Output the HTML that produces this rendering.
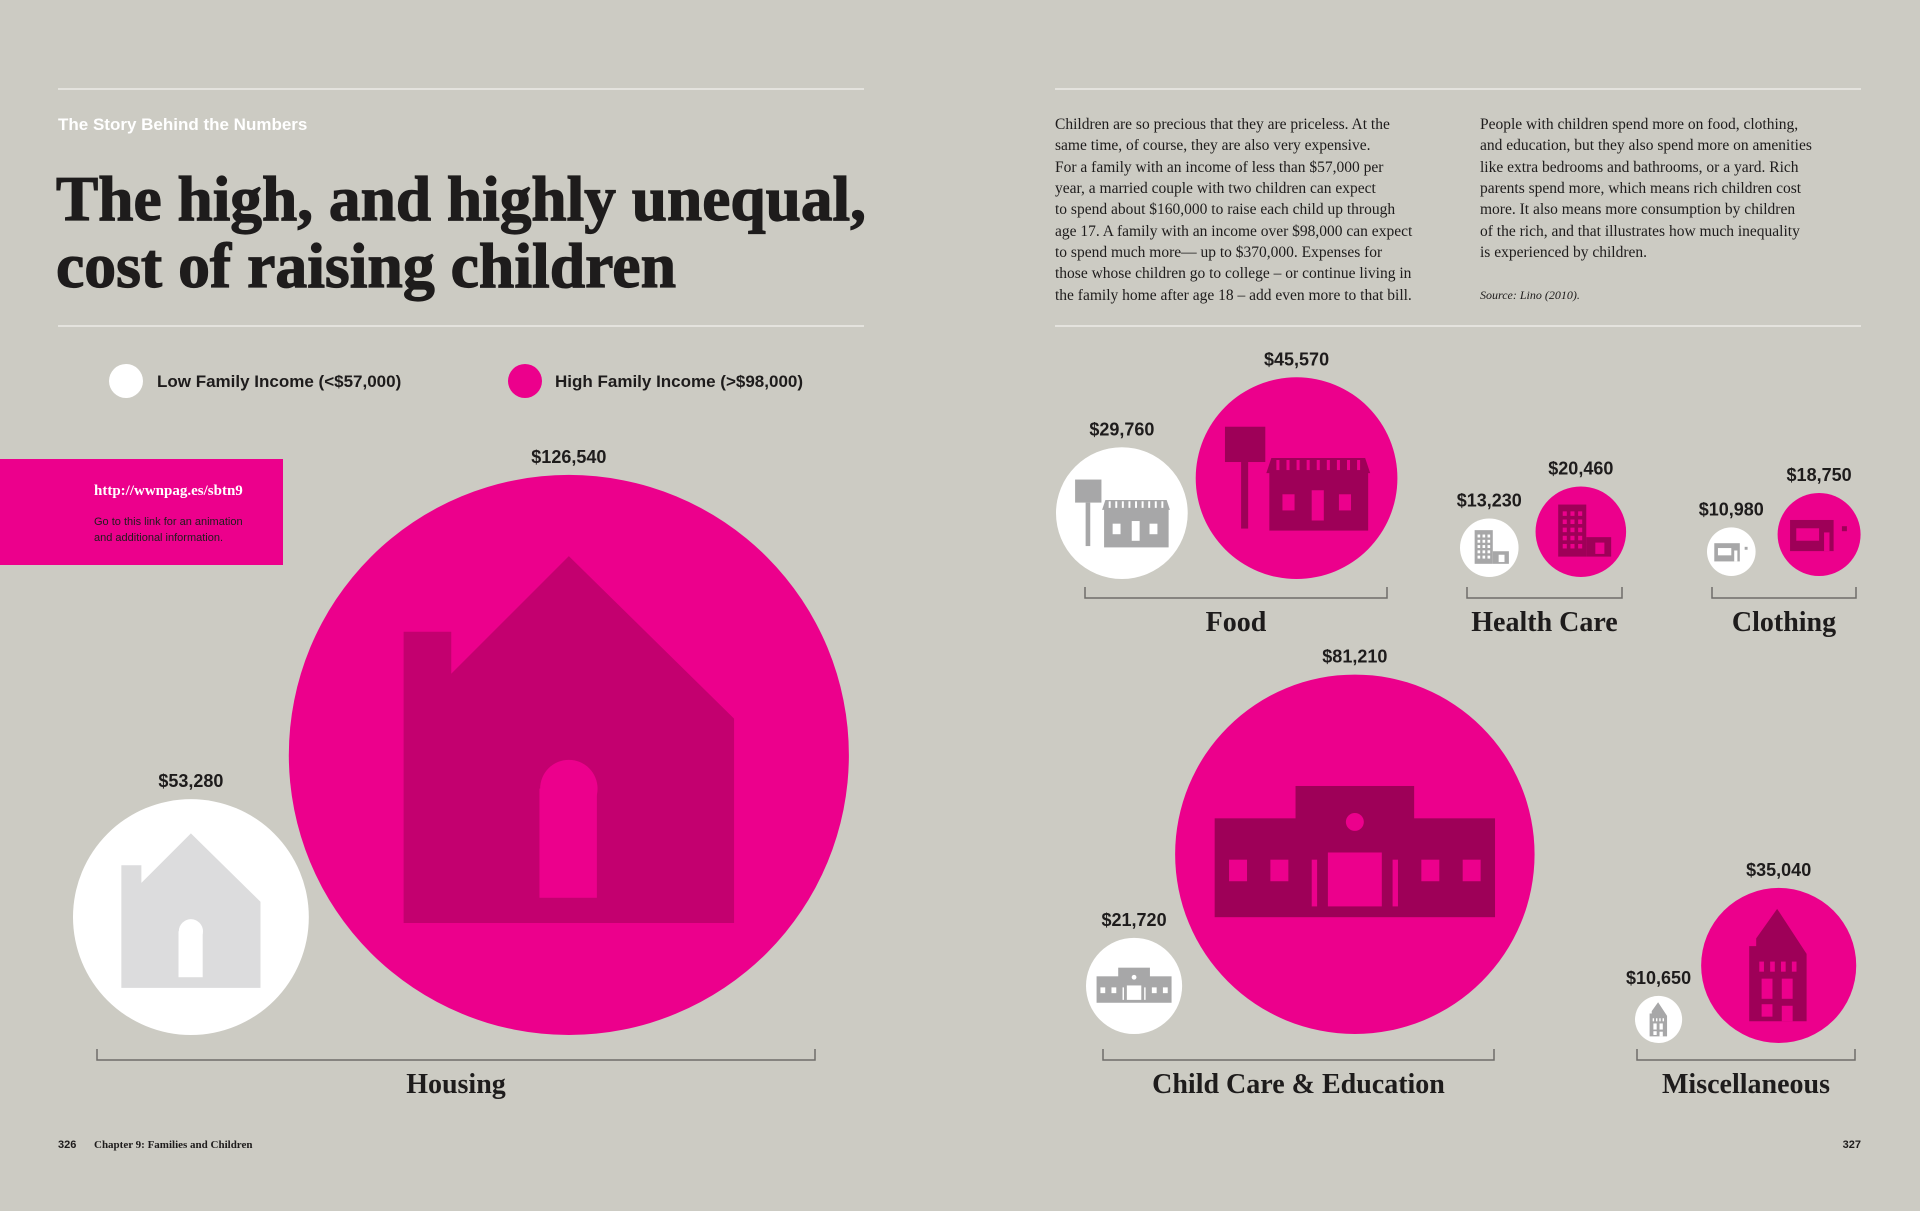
<!DOCTYPE html>
<html><head><meta charset="utf-8">
<style>
html,body{margin:0;padding:0;background:#cccbc3;}
svg{display:block;}
.sans{font-family:"Liberation Sans",sans-serif;}
.serif{font-family:"Liberation Serif",serif;}
</style></head>
<body>
<svg id="chart" width="1920" height="1211" viewBox="0 0 1920 1211" xmlns="http://www.w3.org/2000/svg">
<rect width="1920" height="1211" fill="#cccbc3"/>
<line x1="58" y1="89" x2="864" y2="89" stroke="#e4e3de" stroke-width="2"/>
<line x1="1055" y1="89" x2="1861" y2="89" stroke="#e4e3de" stroke-width="2"/>
<line x1="58" y1="326" x2="864" y2="326" stroke="#e4e3de" stroke-width="2"/>
<line x1="1055" y1="326" x2="1861" y2="326" stroke="#e4e3de" stroke-width="2"/>
<text x="58" y="130" class="sans" font-size="17" font-weight="bold" fill="#ffffff">The Story Behind the Numbers</text>
<g>
<text x="56" y="220" class="serif" font-size="64" font-weight="bold" fill="#1e1c1c" stroke="#1e1c1c" stroke-width="1.2" textLength="810" lengthAdjust="spacingAndGlyphs">The high, and highly unequal,</text>
<text x="56" y="287" class="serif" font-size="64" font-weight="bold" fill="#1e1c1c" stroke="#1e1c1c" stroke-width="1.2" textLength="620" lengthAdjust="spacingAndGlyphs">cost of raising children</text>
</g>
<g class="serif" font-size="15.5" fill="#1e1c1c">
<text x="1055" y="129">Children are so precious that they are priceless. At the</text>
<text x="1055" y="150">same time, of course, they are also very expensive.</text>
<text x="1055" y="172">For a family with an income of less than $57,000 per</text>
<text x="1055" y="193">year, a married couple with two children can expect</text>
<text x="1055" y="214">to spend about $160,000 to raise each child up through</text>
<text x="1055" y="236">age 17. A family with an income over $98,000 can expect</text>
<text x="1055" y="257">to spend much more— up to $370,000. Expenses for</text>
<text x="1055" y="278">those whose children go to college – or continue living in</text>
<text x="1055" y="300">the family home after age 18 – add even more to that bill.</text>
</g>
<g class="serif" font-size="15.5" fill="#1e1c1c">
<text x="1480" y="129">People with children spend more on food, clothing,</text>
<text x="1480" y="150">and education, but they also spend more on amenities</text>
<text x="1480" y="172">like extra bedrooms and bathrooms, or a yard. Rich</text>
<text x="1480" y="193">parents spend more, which means rich children cost</text>
<text x="1480" y="214">more. It also means more consumption by children</text>
<text x="1480" y="236">of the rich, and that illustrates how much inequality</text>
<text x="1480" y="257">is experienced by children.</text>
<text x="1480" y="299" font-size="12" font-style="italic">Source: Lino (2010).</text>
</g>
<g>
<g>
<circle cx="126" cy="381" r="17" fill="#ffffff"/>
<text x="157" y="387" class="sans" font-size="17" font-weight="bold" fill="#1e1c1c">Low Family Income (&lt;$57,000)</text>
</g>
<g>
<circle cx="525" cy="381" r="17" fill="#ec008c"/>
<text x="555" y="387" class="sans" font-size="17" font-weight="bold" fill="#1e1c1c">High Family Income (&gt;$98,000)</text>
</g>
</g>
<g>
<rect x="0" y="459" width="283" height="106" fill="#ec008c"/>
<text x="94" y="495" class="serif" font-size="15" font-weight="bold" fill="#ffffff">http://wwnpag.es/sbtn9</text>
<text x="94" y="525" class="sans" font-size="11" fill="#1e1c1c">Go to this link for an animation</text>
<text x="94" y="541" class="sans" font-size="11" fill="#1e1c1c">and additional information.</text>
</g>
<g id="marks"></g>
<g class="serif" font-size="11" font-weight="bold" fill="#1e1c1c">
<text x="58" y="1148" class="sans" font-size="11">326</text>
<text x="94" y="1148">Chapter 9: Families and Children</text>
<text x="1861" y="1148" text-anchor="end" class="sans" font-size="11">327</text>
</g>
</svg>
<script>
const categories = ["Housing","Food","Health Care","Clothing","Child Care & Education","Miscellaneous"];
const lowIncome = [53280,29760,13230,10980,21720,10650];
const highIncome = [126540,45570,20460,18750,81210,35040];
const lowLabels = ["$53,280","$29,760","$13,230","$10,980","$21,720","$10,650"];
const highLabels = ["$126,540","$45,570","$20,460","$18,750","$81,210","$35,040"];

const NS = "http://www.w3.org/2000/svg";
const PINK = "#ec008c";
const layout = [
  {left:73, gap:-20, base:1035, bx0:97, bx1:815, by:1060, ly:1093, icon:"house"},
  {left:1056, gap:8, base:579, bx0:1085, bx1:1387, by:598, ly:631, icon:"store"},
  {left:1460, gap:17, base:577, bx0:1467, bx1:1622, by:598, ly:631, icon:"hospital"},
  {left:1707, gap:22, base:576, bx0:1712, bx1:1856, by:598, ly:631, icon:"shop"},
  {left:1086, gap:-7, base:1034, bx0:1103, bx1:1494, by:1060, ly:1093, icon:"school"},
  {left:1635, gap:19, base:1043, bx0:1637, bx1:1855, by:1060, ly:1093, icon:"townhouse"}
];
function rScale(v){ return v * 0.002213; }
const marks = document.getElementById('marks');
function mk(tag, attrs, parent){
  const e = document.createElementNS(NS, tag);
  for (const k in attrs) e.setAttribute(k, attrs[k]);
  (parent||marks).appendChild(e);
  return e;
}
function drawIcon(g, type, cx, cy, r, fg, bg){
  const R=(x,y,w,h,c)=>mk('rect',{x:cx+x*r,y:cy+y*r,width:w*r,height:h*r,fill:c||fg},g);
  const P=(pts,c)=>mk('polygon',{points:pts.map(p=>(cx+p[0]*r)+','+(cy+p[1]*r)).join(' '),fill:c||fg},g);
  if(type==="house"){
    P([[-0.59,0.6],[-0.59,-0.44],[-0.42,-0.44],[-0.42,-0.29],[0,-0.71],[0.59,-0.13],[0.59,0.6]]);
    R(-0.105,0.12,0.205,0.39,bg);
    mk('circle',{cx:cx,cy:cy+0.12*r,r:0.1025*r,fill:bg},g);
  } else if(type==="store"){
    R(-0.71,-0.51,0.4,0.35); R(-0.55,-0.16,0.07,0.66);
    R(-0.27,-0.08,0.98,0.6);
    P([[-0.3,-0.05],[-0.25,-0.2],[0.68,-0.2],[0.73,-0.05]]);
    for(let i=0;i<9;i++) R(-0.2+i*0.1,-0.18,0.03,0.1,bg);
    R(-0.14,0.16,0.12,0.16,bg); R(0.42,0.16,0.12,0.16,bg); R(0.15,0.12,0.12,0.3,bg);
  } else if(type==="hospital"){
    R(-0.5,-0.6,0.62,1.15); R(0.12,0.12,0.55,0.43);
    for(let row=0;row<5;row++) for(let c=0;c<3;c++) R(-0.4+c*0.17,-0.45+row*0.18,0.09,0.1,bg);
    R(0.32,0.24,0.2,0.25,bg);
  } else if(type==="shop"){
    R(-0.7,-0.35,1.05,0.75); R(0.55,-0.2,0.12,0.12);
    R(-0.55,-0.15,0.55,0.3,bg); R(0.12,-0.05,0.13,0.45,bg);
  } else if(type==="school"){
    R(-0.78,-0.2,1.56,0.55); R(-0.33,-0.38,0.66,0.2);
    mk('ellipse',{cx:cx,cy:cy-0.18*r,rx:0.05*r,ry:0.05*r,fill:bg},g);
    [-0.7,-0.47,0.37,0.6].forEach(x=>R(x,0.03,0.1,0.12,bg));
    R(-0.15,-0.01,0.3,0.3,bg); R(-0.24,0.03,0.03,0.26,bg); R(0.21,0.03,0.03,0.26,bg);
  } else if(type==="townhouse"){
    P([[-0.38,0.72],[-0.38,-0.25],[-0.29,-0.25],[-0.29,-0.35],[-0.02,-0.73],[0.36,-0.15],[0.36,0.72]]);
    for(let c=0;c<4;c++) R(-0.25+c*0.14,-0.05,0.06,0.13,bg);
    R(-0.22,0.17,0.14,0.26,bg); R(0.04,0.17,0.14,0.26,bg);
    R(-0.22,0.5,0.14,0.16,bg); R(0.04,0.52,0.14,0.2,bg);
  }
}
categories.forEach((cat,i)=>{
  const L = layout[i];
  const g = mk('g',{});
  
  
  const rl = rScale(lowIncome[i]), rh = rScale(highIncome[i]);
  const cxl = L.left + rl, cyl = L.base - rl;
  const cxh = L.left + 2*rl + L.gap + rh, cyh = L.base - rh;
  const cl = mk('circle',{cx:cxl,cy:cyl,r:rl,fill:'#ffffff'},g);
  
  
  drawIcon(g, L.icon, cxl, cyl, rl, i===0?'#dcdcdd':'#a7a7a8', '#ffffff');
  const ch = mk('circle',{cx:cxh,cy:cyh,r:rh,fill:PINK},g);
  
  
  drawIcon(g, L.icon, cxh, cyh, rh, i===0?'#c3006f':'#9e0058', PINK);
  const tl = mk('text',{x:cxl,y:cyl-rl-12,'text-anchor':'middle','class':'sans','font-size':18,'font-weight':'bold',fill:'#1e1c1c'},g);
  tl.textContent = lowLabels[i];
  
  
  const th = mk('text',{x:cxh,y:cyh-rh-12,'text-anchor':'middle','class':'sans','font-size':18,'font-weight':'bold',fill:'#1e1c1c'},g);
  th.textContent = highLabels[i];
  
  
  const br = mk('path',{d:`M${L.bx0},${L.by-11} V${L.by} H${L.bx1} V${L.by-11}`,fill:'none',stroke:'#6e6d6a','stroke-width':1.5},g);
  
  
  const cx = (L.bx0+L.bx1)/2;
  const lab = mk('text',{x:cx,y:L.ly,'text-anchor':'middle','class':'serif','font-size':28,'font-weight':'bold',fill:'#1e1c1c'},g);
  lab.textContent = cat;
  
  
});
</script>
</body></html>
